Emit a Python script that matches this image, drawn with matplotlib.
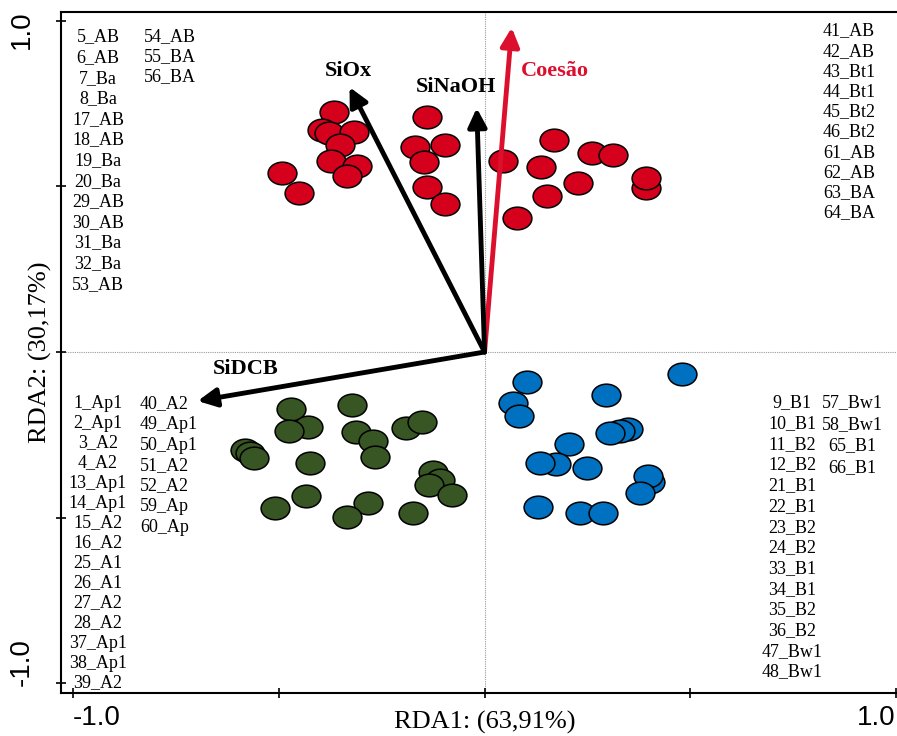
import matplotlib.pyplot as plt
from matplotlib.path import Path
from matplotlib.markers import MarkerStyle
import numpy as np

# scores de las muestras (RDA1, RDA2)
red_x = [-0.365, -0.394, -0.377, -0.318, -0.352, -0.372, -0.309, -0.335, -0.491, -0.452,
         -0.141, -0.168, -0.095, -0.146, -0.139, -0.095, 0.046, 0.168, 0.136, 0.260,
         0.311, 0.228, 0.151, 0.078, 0.391, 0.391]
red_y = [0.725, 0.671, 0.662, 0.665, 0.625, 0.577, 0.562, 0.532, 0.541, 0.480,
         0.710, 0.619, 0.625, 0.574, 0.498, 0.447, 0.577, 0.640, 0.559, 0.601,
         0.595, 0.511, 0.471, 0.405, 0.495, 0.526]
green_x = [-0.471, -0.428, -0.476, -0.321, -0.313, -0.272, -0.267, -0.190, -0.153, -0.583,
           -0.571, -0.559, -0.425, -0.126, -0.109, -0.134, -0.080, -0.433, -0.508, -0.284,
           -0.335, -0.173]
green_y = [-0.172, -0.227, -0.239, -0.160, -0.242, -0.269, -0.317, -0.230, -0.211, -0.296,
           -0.305, -0.320, -0.335, -0.363, -0.387, -0.402, -0.432, -0.435, -0.471, -0.456,
           -0.498, -0.486]
blue_x = [0.104, 0.068, 0.083, 0.296, 0.348, 0.330, 0.304, 0.204, 0.173, 0.134,
          0.250, 0.401, 0.396, 0.377, 0.131, 0.231, 0.287, 0.479]
blue_y = [-0.091, -0.154, -0.193, -0.130, -0.233, -0.239, -0.245, -0.278, -0.338, -0.335,
          -0.350, -0.393, -0.375, -0.426, -0.468, -0.486, -0.486, -0.066]

# variables explicativas / respuesta
vec_names = ["Coesão", "SiNaOH", "SiOx", "SiDCB"]
vec_x = [0.066, -0.019, -0.328, -0.697]
vec_y = [0.980, 0.737, 0.800, -0.148]

# etiquetas de muestras por grupo
red_lab_a = ["5_AB", "6_AB", "7_Ba", "8_Ba", "17_AB", "18_AB", "19_Ba", "20_Ba",
             "29_AB", "30_AB", "31_Ba", "32_Ba", "53_AB"]
red_lab_b = ["54_AB", "55_BA", "56_BA"]
red_lab_c = ["41_AB", "42_AB", "43_Bt1", "44_Bt1", "45_Bt2", "46_Bt2", "61_AB",
             "62_AB", "63_BA", "64_BA"]
green_lab_a = ["1_Ap1", "2_Ap1", "3_A2", "4_A2", "13_Ap1", "14_Ap1", "15_A2", "16_A2",
               "25_A1", "26_A1", "27_A2", "28_A2", "37_Ap1", "38_Ap1", "39_A2"]
green_lab_b = ["40_A2", "49_Ap1", "50_Ap1", "51_A2", "52_A2", "59_Ap", "60_Ap"]
blue_lab_a = ["9_B1", "10_B1", "11_B2", "12_B2", "21_B1", "22_B1", "23_B2", "24_B2",
              "33_B1", "34_B1", "35_B2", "36_B2", "47_Bw1", "48_Bw1"]
blue_lab_b = ["57_Bw1", "58_Bw1", "65_B1", "66_B1"]

W, H = 897, 736
fig = plt.figure(figsize=(W / 100, H / 100), dpi=100)
ax = fig.add_axes([61 / W, 43 / H, 836 / W, 681 / H])
ax.set_xlim(-1.029, 1.002)
ax.set_ylim(-1.030, 1.027)

ax.axhline(0, color="#9a9a9a", lw=0.8, ls=(0, (1, 1)), zorder=0)
ax.axvline(0, color="#9a9a9a", lw=0.8, ls=(0, (1, 1)), zorder=0)

# marcador eliptico
circ = Path.unit_circle()
ell = Path(circ.vertices * np.array([1.27, 1.0]), circ.codes)
mk = MarkerStyle(ell)

kw = dict(marker=mk, s=430, edgecolors="black", linewidths=1.1, zorder=3)
ax.scatter(red_x, red_y, c="#D5001C", **kw)
ax.scatter(green_x, green_y, c="#375623", **kw)
ax.scatter(blue_x, blue_y, c="#0070C0", **kw)

serif = ["Liberation Serif", "DejaVu Serif"]
vec_colors = ["#DC0F2D", "black", "black", "black"]
lab_pos = [(0.17, 0.85), (-0.07, 0.80), (-0.33, 0.85), (-0.58, -0.05)]
for name, vx, vy, col, (lx, ly) in zip(vec_names, vec_x, vec_y, vec_colors, lab_pos):
    ax.annotate("", xy=(vx, vy), xytext=(0, 0),
                arrowprops=dict(arrowstyle="-|>", color=col, lw=3.5,
                                mutation_scale=28, shrinkA=0, shrinkB=0),
                zorder=4)
    ax.text(lx, ly, name, color=col, fontsize=16, fontweight="bold",
            family=serif, ha="center", va="center", zorder=5)

# etiquetas de muestras (columnas de texto)
def column(labels, x, y0, step, ha):
    for i, t in enumerate(labels):
        fig.text(x / W, 1 - (y0 + i * step) / H, t, fontsize=13, family=serif,
                 ha=ha, va="center")

column(red_lab_a, 98, 37, 20.6, "center")
column(red_lab_b, 144, 37, 20.0, "left")
column(red_lab_c, 823, 31, 20.2, "left")
column(green_lab_a, 98, 403, 20.0, "center")
column(green_lab_b, 140, 404, 20.5, "left")
column(blue_lab_a, 792, 403, 20.7, "center")
column(blue_lab_b, 852, 403, 21.5, "center")

# ejes
ax.set_xticks([-1, -0.5, 0, 0.5, 1])
ax.set_yticks([-1, -0.5, 0, 0.5, 1])
ax.set_xticklabels([])
ax.set_yticklabels([])
ax.tick_params(direction="inout", length=7, width=1.2)
for s in ["left", "bottom", "top"]:
    ax.spines[s].set_linewidth(1.5)
ax.spines["right"].set_visible(False)

sans = ["Liberation Sans", "DejaVu Sans"]
fig.text(97 / W, 1 - 718 / H, "-1.0", fontsize=20, family=sans, ha="center", va="center")
fig.text(876 / W, 1 - 718 / H, "1.0", fontsize=20, family=sans, ha="center", va="center")
fig.text(22 / W, 1 - 30 / H, "1.0", fontsize=20, family=sans, ha="center", va="center",
         rotation=90)
fig.text(22 / W, 1 - 662 / H, "-1.0", fontsize=20, family=sans, ha="center", va="center",
         rotation=90)

fig.text(485 / W, 1 - 722 / H, "RDA1: (63,91%)", fontsize=19, family=serif,
         ha="center", va="center")
fig.text(40 / W, 1 - 352 / H, "RDA2: (30,17%)", fontsize=19, family=serif,
         ha="center", va="center", rotation=90)

fig.savefig("out.png", dpi=100)
